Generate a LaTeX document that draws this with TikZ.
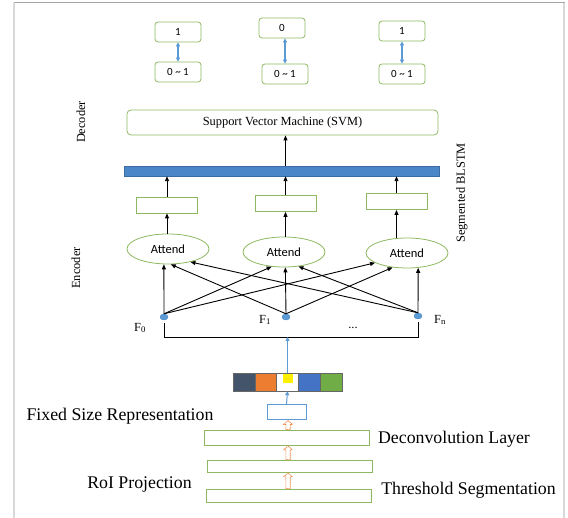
\documentclass[tikz,border=0pt]{standalone}
\usepackage{fontspec}
\setmainfont{Liberation Serif}
\newfontfamily\cfont{Carlito}
\usetikzlibrary{shapes.geometric,arrows.meta,calc}
\definecolor{boxgreen}{HTML}{8DB860}
\definecolor{barblue}{HTML}{4A86C8}
\definecolor{lightblue}{HTML}{5B9BD5}
\definecolor{cellA}{HTML}{44546A}
\definecolor{cellB}{HTML}{ED7D31}
\definecolor{cellD}{HTML}{4472C4}
\definecolor{cellE}{HTML}{70AD47}
\tikzset{
  valbox/.style={draw=boxgreen,thick,rounded corners=3pt,minimum width=46pt,minimum height=20pt,
    font=\cfont\fontsize{11}{12}\selectfont},
  hidbox/.style={draw=boxgreen,thick,minimum width=61pt,minimum height=16pt},
  attend/.style={ellipse,draw=boxgreen,thick,minimum width=82pt,minimum height=30pt,
    font=\cfont\fontsize{12.5}{14}\selectfont},
  feat/.style={ellipse,fill=lightblue,draw=barblue,minimum width=8pt,minimum height=6pt,inner sep=0pt},
  cell/.style={draw=black!60,line width=0.4pt,minimum width=21.8pt,minimum height=18pt,inner sep=0pt},
  layer/.style={trapezium,trapezium left angle=77,trapezium right angle=103,trapezium stretches body,
    draw=boxgreen,thick,minimum width=165pt,minimum height=14pt,inner sep=0pt},
  hollowarr/.style={draw=cellB,fill=white,line width=0.6pt,dash pattern=on 1.6pt off 0.6pt},
  lbl/.style={font=\fontsize{12.4}{14}\selectfont},
  biglbl/.style={font=\fontsize{17.8}{20}\selectfont},
  arr/.style={-{Triangle[length=5pt,width=4pt]},line width=0.9pt},
  barr/.style={{Triangle[length=4pt,width=4pt]}-{Triangle[length=4pt,width=4pt]},lightblue,line width=1.2pt},
}

\begin{document}
\begin{tikzpicture}[x=1pt,y=-1pt]
\useasboundingbox (0,0) rectangle (568,518);
% frame
\draw[gray!70,line width=1pt] (14,3) -- (565,3);
\draw[gray!30,line width=1.5pt] (14,3) -- (14,518) (564,3) -- (564,518);

% outputs
\node[valbox] (t1) at (178,32) {1};
\node[valbox] (t2) at (282,28) {0};
\node[valbox] (t3) at (402,31) {1};
\node[valbox] (p1) at (178,72) {0 \textasciitilde\ 1};
\node[valbox] (p2) at (285,74) {0 \textasciitilde\ 1};
\node[valbox] (p3) at (402,74) {0 \textasciitilde\ 1};
\foreach \i in {1,2,3}
  \draw[barr] (p\i.north) -- (p\i.north |- t\i.south);

% decoder
\node[draw=boxgreen,thick,rounded corners=4pt,minimum width=311pt,minimum height=25pt,
  font=\fontsize{12.4}{14}\selectfont] (svm) at (282.5,122.5) {Support Vector Machine (SVM)};
\node[fill=barblue,draw=barblue!80!black,line width=0.4pt,minimum width=315pt,minimum height=10pt,
  inner sep=0pt] (bar) at (281.5,171) {};
\node[hidbox] (h1) at (167,205) {};
\node[hidbox] (h2) at (285.5,203.5) {};
\node[hidbox] (h3) at (396.5,201.5) {};
\draw[arr] (bar.north -| h2) -- (svm.south -| h2);

% encoder
\node[attend] (e1) at (168,249) {Attend};
\node[attend] (e2) at (284,252) {Attend};
\node[attend] (e3) at (407,253) {Attend};
\node[feat] (d1) at (164,317) {};
\node[feat] (d2) at (286,317) {};
\node[feat] (d3) at (418,316) {};
\foreach \i in {1,2,3}
{
  \draw[arr] (h\i.north) -- (h\i.north |- bar.south);
  \draw[arr] (h\i.south |- e\i.north) -- (h\i.south);
}
\foreach \src/\dst in {d1/e1.255, d2/e1.280, d3/e1.330, d1/e2.230, d2/e2.275,
                       d3/e2.315, d1/e3.197, d2/e3.225, d3/e3.307}
  \draw[arr] (\src.north) -- (\dst);

\node[lbl] (f0) at (140,328) {F\textsubscript{0}};
\node[lbl] (f1) at (265,320) {F\textsubscript{1}};
\node[lbl] (fn) at (440,320) {F\textsubscript{n}};
\node[lbl] (fdots) at (353,328) {...};
\coordinate (join) at (287.5,337);
\draw[line width=0.9pt] ([yshift=-3pt]d1.south) -- (d1 |- join) -- (d3 |- join) -- ([yshift=-3pt]d3.south);

\node[lbl,rotate=90] (declbl) at (81,122) {Decoder};
\node[lbl,rotate=90] (enclbl) at (76,268) {Encoder};
\node[lbl,rotate=90] (blstm) at (462,193) {Segmented BLSTM};

% fixed size representation
\foreach \col [count=\i] in {cellA,cellB,white,cellD,cellE}
  \node[cell,fill=\col] (c\i) at (233+10.9+21.8*\i-21.8,382) {};
\node[fill=yellow,minimum width=10pt,minimum height=9pt,inner sep=0pt,text=cellB,
  font=\fontsize{5}{5}\selectfont,anchor=north] (ydots) at ([yshift=-1.5pt]c3.north) {....};
\draw[-{Triangle[length=4pt,width=4pt]},lightblue,line width=1pt] (c3.north) -- (join);
\node[draw=lightblue,line width=1pt,minimum width=39pt,minimum height=15pt,inner sep=0pt]
  (fsr) at (286.5,412) {};
\draw[-{Triangle[length=4pt,width=4pt]},lightblue,line width=1pt] (fsr.north) -- (c3.south);

% layers
\node[layer,minimum height=15pt] (l1) at (286.5,437.5) {};
\node[layer,minimum height=12pt] (l2) at (289.5,466) {};
\node[layer,minimum height=13pt] (l3) at (289,495.5) {};
\foreach \lo/\hi in {l1/fsr, l2/l1, l3/l2}
  \draw[hollowarr] let \p1=(\lo.north), \p2=(\hi.south) in
    (288pt,\y1) -- (288pt-2.2pt,\y1) -- (288pt-2.2pt,\y2-4.5pt) -- (288pt-4.5pt,\y2-4.5pt)
    -- (288pt,\y2-0.6pt) -- (288pt+4.5pt,\y2-4.5pt) -- (288pt+2.2pt,\y2-4.5pt)
    -- (288pt+2.2pt,\y1) -- cycle;

\node[biglbl] (fsrlbl) at (120,416) {Fixed Size Representation};
\node[biglbl] (deconv) at (454,439) {Deconvolution Layer};
\node[biglbl] (roi) at (139.5,485) {RoI Projection};
\node[biglbl] (thresh) at (468.5,490) {Threshold Segmentation};
\end{tikzpicture}
\end{document}
